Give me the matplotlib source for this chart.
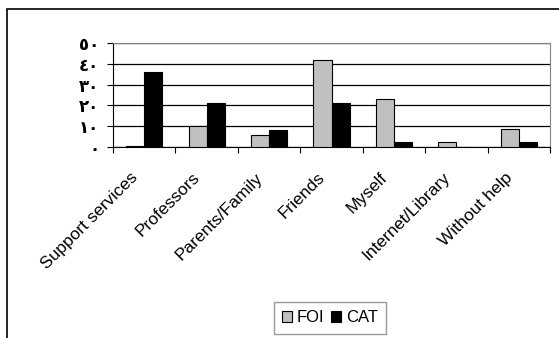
import matplotlib.pyplot as plt
import matplotlib.transforms as mtransforms
import numpy as np
from matplotlib.patches import Rectangle

categories = ["Support services", "Professors", "Parents/Family", "Friends",
              "Myself", "Internet/Library", "Without help"]
foi = [0.5, 10, 6, 42, 23, 2.3, 8.7]
cat = [36, 21, 8, 21, 2.4, 0, 2.4]
yticks = [0, 10, 20, 30, 40, 50]
ytick_labels = ["٠", "١٠", "٢٠", "٣٠", "٤٠", "٥٠"]

plt.rcParams['font.family'] = ['Liberation Sans', 'DejaVu Sans']

fig = plt.figure(figsize=(5.59, 3.38), dpi=100)
W, H = 559, 338
ax = fig.add_axes([113 / W, 1 - 147 / H, (550 - 113) / W, (147 - 43) / H])

x = np.arange(len(categories))
w = 0.29
ax.bar(x - w / 2, foi, w, color="#c0c0c0", edgecolor="black", linewidth=0.8, label="FOI", zorder=3)
ax.bar(x + w / 2, cat, w, color="black", edgecolor="black", linewidth=0.8, label="CAT", zorder=3)

ax.set_xlim(-0.5, len(categories) - 0.5)
ax.set_ylim(0, 50)
ax.set_yticks(yticks)
ax.set_yticklabels(ytick_labels, family=['DejaVu Sans'], fontsize=12, weight="bold")
ax.yaxis.grid(True, color="black", linewidth=0.9, zorder=0)

# category ticks sit on the group boundaries
ax.set_xticks(np.arange(len(categories) + 1) - 0.5)
ax.set_xticklabels([])
ax.set_xticks(x, minor=True)
ax.set_xticklabels(categories, minor=True, rotation=45, ha="right", va="center",
                   rotation_mode="anchor", fontsize=12.5)
ax.tick_params(axis="x", which="minor", length=0, pad=16)
ax.tick_params(axis="x", which="major", length=4, direction="out", width=0.8)
ax.tick_params(axis="y", length=4, direction="out", width=0.8, pad=6)
shift = mtransforms.ScaledTranslation(-9 / 100, -6 / 100, fig.dpi_scale_trans)
for lbl in ax.get_xticklabels(minor=True):
    lbl.set_transform(lbl.get_transform() + shift)

for s in ["top", "right"]:
    ax.spines[s].set_color("#808080")
for s in ["left", "bottom"]:
    ax.spines[s].set_color("black")

leg = fig.legend(loc="center", bbox_to_anchor=(330 / W, 1 - 318 / H), ncol=2,
                 fontsize=12, frameon=True, fancybox=False, handlelength=0.6,
                 handleheight=0.6, handletextpad=0.3, columnspacing=0.4,
                 borderpad=0.5)
leg.get_frame().set_edgecolor("#808080")
leg.get_frame().set_linewidth(1.0)

# outer chart border
fig.patches.append(Rectangle((7 / W, -0.1), 1.2, 1 - 9 / H + 0.1, transform=fig.transFigure,
                             fill=False, edgecolor="black", linewidth=1.2))

fig.savefig("out.png", dpi=100)
